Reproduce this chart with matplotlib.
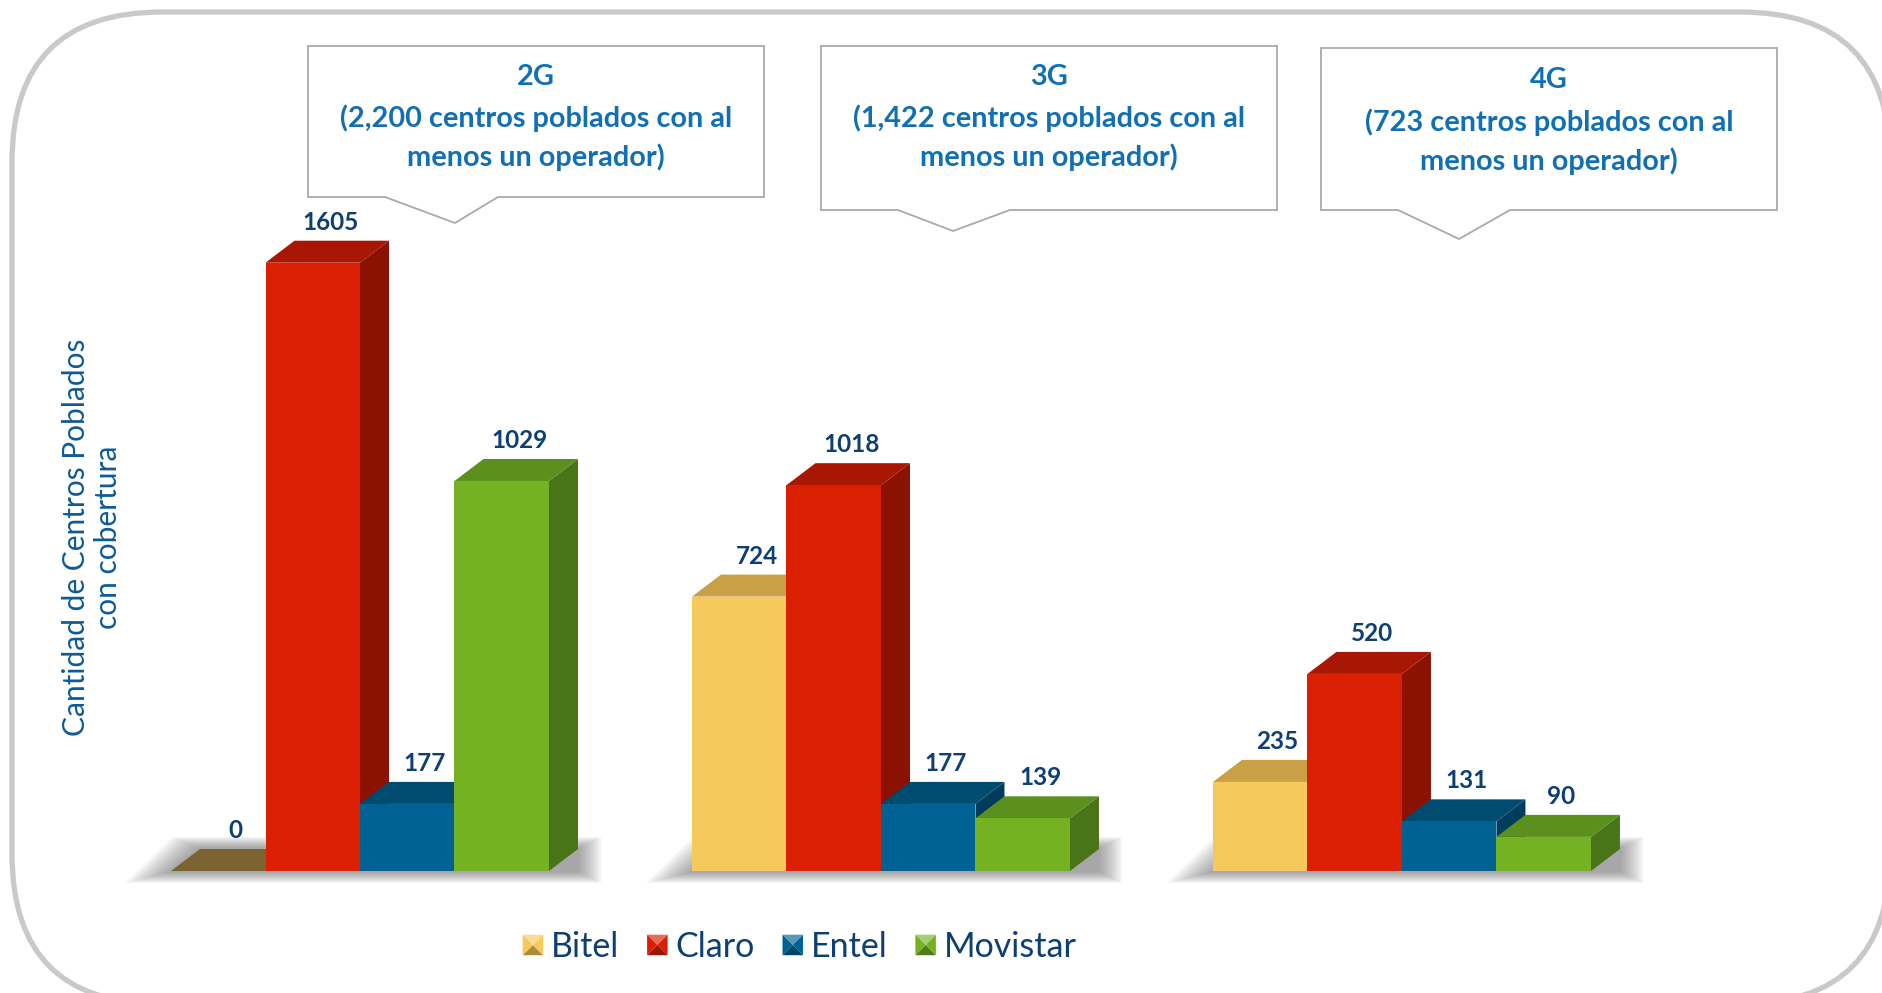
import matplotlib
matplotlib.use("Agg")
import matplotlib.pyplot as plt
import matplotlib.colors as mcolors
from matplotlib.patches import Polygon, FancyBboxPatch, Patch
from matplotlib.legend_handler import HandlerBase

plt.rcParams["font.family"] = ["Lato", "DejaVu Sans"]

# ---- data ----
technologies = ["2G", "3G", "4G"]
box_totals = ["2,200", "1,422", "723"]
operators = ["Bitel", "Claro", "Entel", "Movistar"]
bitel = [0, 724, 235]
claro = [1605, 1018, 520]
entel = [177, 177, 131]
movistar = [1029, 139, 90]

# face colours per operator: front, top, side
FACES = {
    "Bitel": ("#F6C95C", "#C9A046", "#A8843A"),
    "Claro": ("#DA1F03", "#A81703", "#8B1200"),
    "Entel": ("#006193", "#004B70", "#003D5C"),
    "Movistar": ("#74B224", "#5B8F1E", "#4A7418"),
}
LABEL_COLOR = "#0D3F73"
BOX_COLOR = "#1170B3"

W, H = 1883, 993
PX_X = 94.5      # px per bar width
PX_Y = 0.379     # px per unit
DX, DY = 29 / PX_X, 22 / PX_Y   # 3D depth offset in data units
GROUP_STEP = 5.513

fig = plt.figure(figsize=(W / 100, H / 100), dpi=100)

# background canvas in pixel coordinates (frame, callouts, titles)
bg = fig.add_axes([0, 0, 1, 1], zorder=0)
bg.set_xlim(0, W)
bg.set_ylim(H, 0)
bg.axis("off")

frame = FancyBboxPatch((12, 12), 1878, 992, boxstyle="round,pad=0,rounding_size=150",
                       facecolor="white", edgecolor="#C9C9C9", linewidth=3.8)
bg.add_patch(frame)

# callout boxes: (x0, x1, y0, y1, pointer_left, apex_x, apex_y, pointer_right)
callouts = [
    (308, 764, 46, 197, 385, 455, 223, 498),
    (821, 1277, 46, 210, 898, 953, 231, 1010),
    (1321, 1777, 48, 210, 1398, 1459, 239, 1510),
]
text_rows = [(77, 118, 157), (77, 118, 157), (80, 122, 161)]
for (x0, x1, y0, y1, pl, ax_, ay, pr), rows, tech, tot in zip(callouts, text_rows,
                                                              technologies, box_totals):
    pts = [(x0, y0), (x1, y0), (x1, y1), (pr, y1), (ax_, ay), (pl, y1), (x0, y1)]
    bg.add_patch(Polygon(pts, closed=True, facecolor="white", edgecolor="#A9A9A9",
                         linewidth=1.3))
    cx = (x0 + x1) / 2
    lines = [tech, f"({tot} centros poblados con al", "menos un operador)"]
    for yy, s in zip(rows, lines):
        bg.text(cx, yy, s, ha="center", va="center", fontsize=20.8, fontweight="bold",
                color=BOX_COLOR)

bg.text(92, 537, "Cantidad de Centros Poblados\ncon cobertura", rotation=90,
        ha="center", va="center", multialignment="center", fontsize=21.5,
        color="#0E5A96", linespacing=1.2)

# bar axes
ax = fig.add_axes([171 / W, 122 / H, 16 * PX_X / W, 1700 * PX_Y / H], zorder=1)
ax.set_xlim(0, 16)
ax.set_ylim(0, 1700)
ax.axis("off")
ax.patch.set_alpha(0)

series = [bitel, claro, entel, movistar]

# soft floor shadows under each group
for g in range(len(technologies)):
    x0 = g * GROUP_STEP
    x1 = x0 + len(operators)
    for k in range(12):
        ex = (2 + k * 4.0) / PX_X
        ey = (1 + k * 1.0) / PX_Y
        pts = [(x0 - ex, -ey), (x1 + DX + ex * 0.5, -ey),
               (x1 + DX + ex * 0.5, DY + ey), (x0 + DX - ex * 0.6, DY + ey)]
        ax.add_patch(Polygon(pts, closed=True, facecolor="#4A4A4A", edgecolor="none",
                             alpha=0.05, clip_on=False, zorder=1))

# 3D bars
for g in range(len(technologies)):
    for j, op in enumerate(operators):
        v = series[j][g]
        x = g * GROUP_STEP + j
        front, top, side = FACES[op]
        if v == 0:
            top = "#7B6430"
        z = 2 + j
        ax.add_patch(Polygon([(x + 1, 0), (x + 1 + DX, DY), (x + 1 + DX, v + DY), (x + 1, v)],
                             closed=True, facecolor=side, edgecolor="none", clip_on=False, zorder=z))
        ax.add_patch(Polygon([(x, v), (x + 1, v), (x + 1 + DX, v + DY), (x + DX, v + DY)],
                             closed=True, facecolor=top, edgecolor="none", clip_on=False, zorder=z))
        if v > 0:
            ax.bar(x, v, width=1, align="edge", color=front, edgecolor="none",
                   zorder=z, clip_on=False)
        ax.annotate(f"{v}", xy=(x + 0.5 + DX * 0.6, v + DY), xytext=(0, 5),
                    textcoords="offset points", ha="center", va="bottom",
                    fontsize=17.5, fontweight="bold", color=LABEL_COLOR, zorder=10)


class BevelHandler(HandlerBase):
    def create_artists(self, legend, orig_handle, xdescent, ydescent, width, height,
                       fontsize, trans):
        base = mcolors.to_rgb(orig_handle.get_facecolor())
        light = tuple(c + (1 - c) * 0.35 for c in base)
        dark = tuple(c * 0.7 for c in base)
        s = height
        x0 = -xdescent + (width - s) / 2
        y0 = -ydescent
        c = (x0 + s / 2, y0 + s / 2)
        bl, br, tr, tl = (x0, y0), (x0 + s, y0), (x0 + s, y0 + s), (x0, y0 + s)
        tris = [((tl, tr, c), light), ((bl, br, c), dark), ((tl, bl, c), base), ((tr, br, c), base)]
        arts = []
        for pts, col in tris:
            arts.append(Polygon(pts, closed=True, facecolor=col, edgecolor="none",
                                transform=trans))
        return arts


handles = [Patch(facecolor=FACES[op][0]) for op in operators]
ax.legend(handles, operators, handler_map={Patch: BevelHandler()}, loc="center",
          bbox_to_anchor=(800 / W, 1 - 947 / H), bbox_transform=fig.transFigure,
          ncol=4, frameon=False, fontsize=24.5, labelcolor=LABEL_COLOR,
          handlelength=0.55, handleheight=0.55, handletextpad=0.25, columnspacing=0.85)

fig.savefig("out.png", dpi=100)
